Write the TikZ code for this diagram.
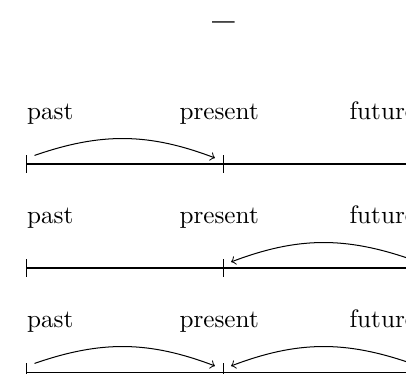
\documentclass[tikz,border=0pt]{standalone}
\usetikzlibrary{arrows}
\tikzstyle{tick} = [inner sep=0pt, minimum width=6pt, minimum height=6.4pt]
\tikzstyle{word} = [inner sep=0pt, anchor=base west]
\tikzstyle{line} = [draw]
\tikzstyle{jump} = [draw, ->]

\begin{document}
\begin{tikzpicture}[x=0.397pt, y=0.397pt]
	\useasboundingbox (0,0) rectangle (406,373);
	\clip (0,0) rectangle (406,373);
	
	% Title
	\node (title) at (223.5,345) {\fontsize{16}{18}\selectfont\bfseries --};
	
	% Place time lines
	\foreach \r/\y in {1/209, 2/105, 3/1} {
		\node [tick] (past\r) at (26.5,\y) {};
		\node [tick] (pres\r) at (223,\y)  {};
		\node [tick] (fut\r)  at (419.5,\y) {};
		\node [word] (lpast\r) at (26.5,\y+45) {past};
		\node [word] (lpres\r) at (179,\y+45)  {present};
		\node [word] (lfut\r)  at (349,\y+45)  {future};
		\path [line] (past\r.center) -- (fut\r.center);
		\path [line] (past\r.north) -- (past\r.south);
		\path [line] (pres\r.north) -- (pres\r.south);
		\path [line] (fut\r.north)  -- (fut\r.south);
	}
	
	%Draw jumps
	\path [jump] (past1.north east) to[bend left=20]  ([yshift=-1pt]pres1.north west);
	\path [jump] (fut2.north west)  to[bend right=20] ([yshift=-1pt]pres2.north east);
	\path [jump] (past3.north east) to[bend left=20]  ([yshift=-1pt]pres3.north west);
	\path [jump] (fut3.north west)  to[bend right=20] ([yshift=-1pt]pres3.north east);
	
\end{tikzpicture}
\end{document}
